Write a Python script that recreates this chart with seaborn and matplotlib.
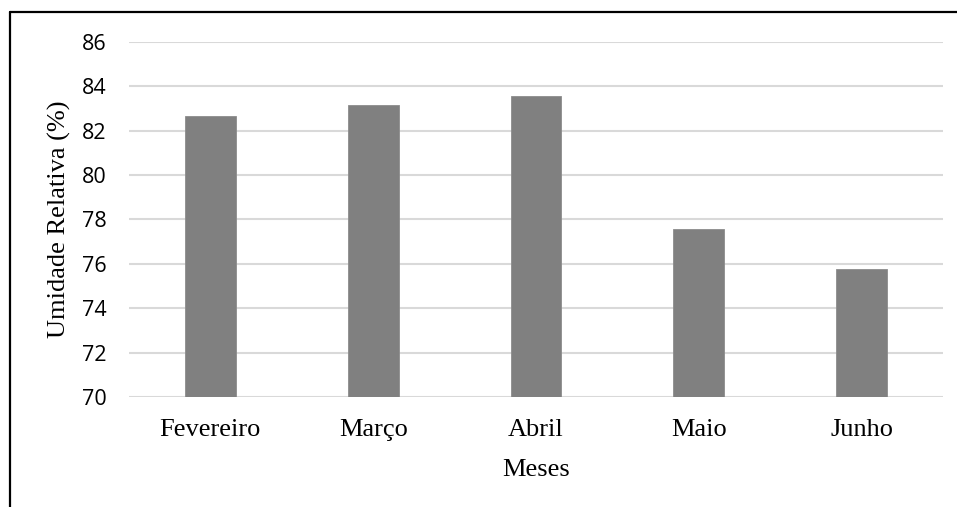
import matplotlib
matplotlib.use("Agg")
import matplotlib.pyplot as plt
from matplotlib.lines import Line2D
import seaborn as sns
import pandas as pd

months = ["Fevereiro", "Março", "Abril", "Maio", "Junho"]
humidity = [82.65, 83.15, 83.55, 77.55, 75.77]
y_ticks = [70, 72, 74, 76, 78, 80, 82, 84, 86]

df = pd.DataFrame({"Meses": months, "Umidade": humidity})

sns.set_style("white")
fig = plt.figure(figsize=(9.57, 5.07), dpi=100)
ax = fig.add_axes([0.1348, 0.217, 0.8506, 0.7002])

sns.barplot(data=df, x="Meses", y="Umidade", color="#808080", saturation=1,
            width=0.313, ax=ax, zorder=3, edgecolor="#8c8c8c", linewidth=0.6)

ax.set_ylim(70, 86)
ax.set_yticks(y_ticks)
ax.set_xlim(-0.5, len(months) - 0.5)
ax.yaxis.grid(True, color="#d9d9d9", linewidth=1.5, zorder=0)
ax.set_axisbelow(True)
for s in ax.spines.values():
    s.set_visible(False)
ax.tick_params(axis="both", length=0)
ax.tick_params(axis="y", pad=16)
ax.tick_params(axis="x", pad=16)

for lab in ax.get_yticklabels():
    lab.set_fontfamily("Open Sans")
    lab.set_fontsize(15.5)
    lab.set_color("#000000")
for lab in ax.get_xticklabels():
    lab.set_fontfamily("Liberation Serif")
    lab.set_fontsize(19)
    lab.set_color("#000000")

ax.set_xlabel("Meses", fontfamily="Liberation Serif", fontsize=19,
              labelpad=13, color="#000000")
ax.set_ylabel("Umidade Relativa (%)", fontfamily="Liberation Serif", fontsize=19,
              labelpad=8, color="#000000")

# frame lines along the top and left edges of the figure
fig.add_artist(Line2D([10 / 957, 1.0], [1 - 12 / 507, 1 - 12 / 507],
                      transform=fig.transFigure, color="black", linewidth=1.6))
fig.add_artist(Line2D([10 / 957, 10 / 957], [0.0, 1 - 12 / 507],
                      transform=fig.transFigure, color="black", linewidth=1.6))

fig.savefig("out.png", dpi=100)
